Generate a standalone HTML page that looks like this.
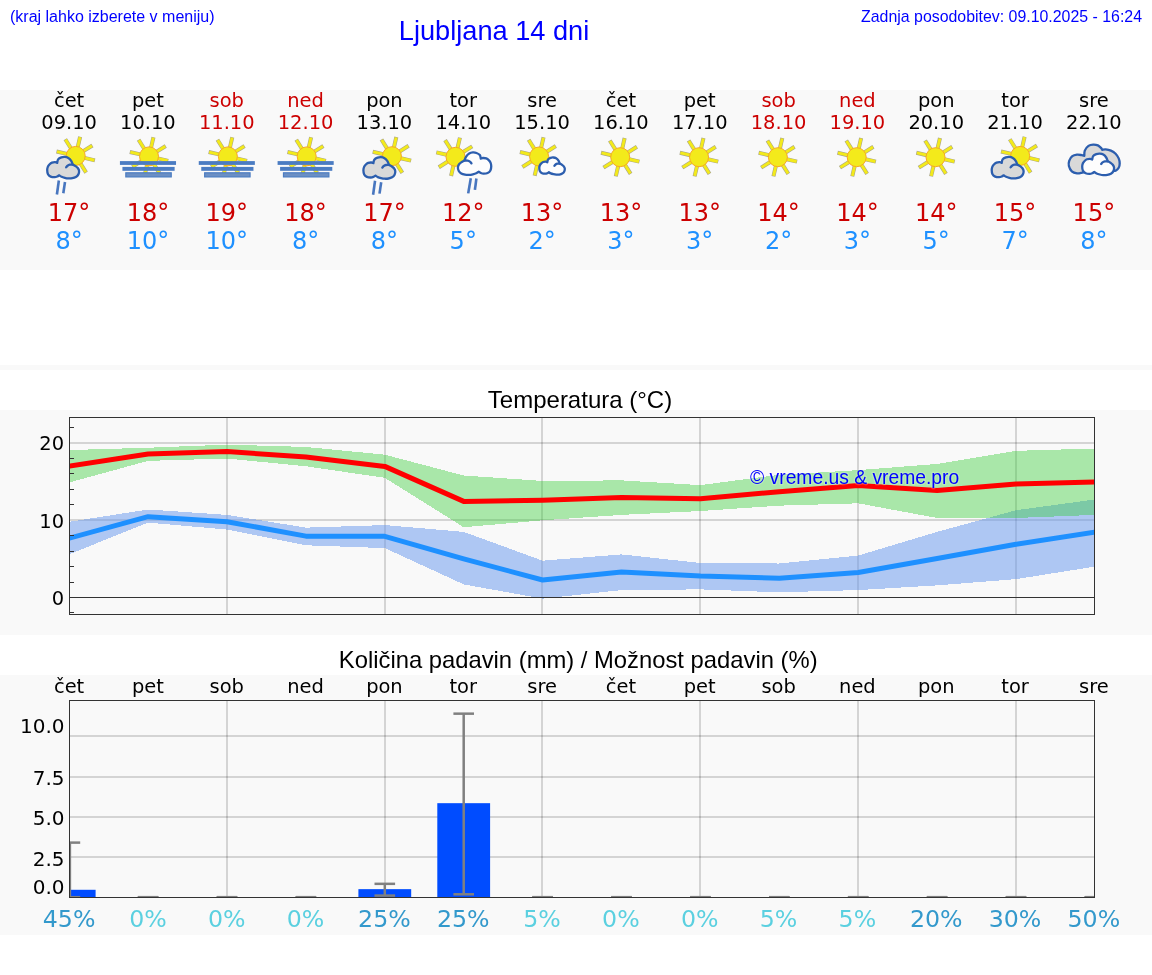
<!DOCTYPE html>
<html><head><meta charset="utf-8"><title>Ljubljana 14 dni</title>
<style>
html,body{margin:0;padding:0;background:#fff;width:1152px;height:975px;overflow:hidden}
body{position:relative}
</style></head><body>
<svg width="1152" height="975" viewBox="0 0 1152 975" style="position:absolute;left:0;top:0">
<text x="10" y="22" font-family="'Liberation Sans', sans-serif" font-size="16" fill="#0000ff">(kraj lahko izberete v meniju)</text>
<text x="398.8" y="39.5" font-family="'Liberation Sans', sans-serif" font-size="27.2" fill="#0000ff">Ljubljana 14 dni</text>
<text x="1142" y="21.5" text-anchor="end" font-family="'Liberation Sans', sans-serif" font-size="15.9" fill="#0000ff">Zadnja posodobitev: 09.10.2025 - 16:24</text>
<rect x="0" y="90" width="1152" height="180" fill="#f9f9f9"/>
<text x="69.10" y="107.0" text-anchor="middle" font-family="'DejaVu Sans', sans-serif" font-size="19.44" fill="#000">čet</text>
<text x="69.10" y="129" text-anchor="middle" font-family="'DejaVu Sans', sans-serif" font-size="19.44" fill="#000">09.10</text>
<text x="69.10" y="221.1" text-anchor="middle" font-family="'DejaVu Sans', sans-serif" font-size="24" fill="#cc0000">17°</text>
<text x="69.10" y="248.5" text-anchor="middle" font-family="'DejaVu Sans', sans-serif" font-size="24" fill="#1e90ff">8°</text>
<text x="147.93" y="107.0" text-anchor="middle" font-family="'DejaVu Sans', sans-serif" font-size="19.44" fill="#000">pet</text>
<text x="147.93" y="129" text-anchor="middle" font-family="'DejaVu Sans', sans-serif" font-size="19.44" fill="#000">10.10</text>
<text x="147.93" y="221.1" text-anchor="middle" font-family="'DejaVu Sans', sans-serif" font-size="24" fill="#cc0000">18°</text>
<text x="147.93" y="248.5" text-anchor="middle" font-family="'DejaVu Sans', sans-serif" font-size="24" fill="#1e90ff">10°</text>
<text x="226.76" y="107.0" text-anchor="middle" font-family="'DejaVu Sans', sans-serif" font-size="19.44" fill="#cc0000">sob</text>
<text x="226.76" y="129" text-anchor="middle" font-family="'DejaVu Sans', sans-serif" font-size="19.44" fill="#cc0000">11.10</text>
<text x="226.76" y="221.1" text-anchor="middle" font-family="'DejaVu Sans', sans-serif" font-size="24" fill="#cc0000">19°</text>
<text x="226.76" y="248.5" text-anchor="middle" font-family="'DejaVu Sans', sans-serif" font-size="24" fill="#1e90ff">10°</text>
<text x="305.59" y="107.0" text-anchor="middle" font-family="'DejaVu Sans', sans-serif" font-size="19.44" fill="#cc0000">ned</text>
<text x="305.59" y="129" text-anchor="middle" font-family="'DejaVu Sans', sans-serif" font-size="19.44" fill="#cc0000">12.10</text>
<text x="305.59" y="221.1" text-anchor="middle" font-family="'DejaVu Sans', sans-serif" font-size="24" fill="#cc0000">18°</text>
<text x="305.59" y="248.5" text-anchor="middle" font-family="'DejaVu Sans', sans-serif" font-size="24" fill="#1e90ff">8°</text>
<text x="384.42" y="107.0" text-anchor="middle" font-family="'DejaVu Sans', sans-serif" font-size="19.44" fill="#000">pon</text>
<text x="384.42" y="129" text-anchor="middle" font-family="'DejaVu Sans', sans-serif" font-size="19.44" fill="#000">13.10</text>
<text x="384.42" y="221.1" text-anchor="middle" font-family="'DejaVu Sans', sans-serif" font-size="24" fill="#cc0000">17°</text>
<text x="384.42" y="248.5" text-anchor="middle" font-family="'DejaVu Sans', sans-serif" font-size="24" fill="#1e90ff">8°</text>
<text x="463.25" y="107.0" text-anchor="middle" font-family="'DejaVu Sans', sans-serif" font-size="19.44" fill="#000">tor</text>
<text x="463.25" y="129" text-anchor="middle" font-family="'DejaVu Sans', sans-serif" font-size="19.44" fill="#000">14.10</text>
<text x="463.25" y="221.1" text-anchor="middle" font-family="'DejaVu Sans', sans-serif" font-size="24" fill="#cc0000">12°</text>
<text x="463.25" y="248.5" text-anchor="middle" font-family="'DejaVu Sans', sans-serif" font-size="24" fill="#1e90ff">5°</text>
<text x="542.08" y="107.0" text-anchor="middle" font-family="'DejaVu Sans', sans-serif" font-size="19.44" fill="#000">sre</text>
<text x="542.08" y="129" text-anchor="middle" font-family="'DejaVu Sans', sans-serif" font-size="19.44" fill="#000">15.10</text>
<text x="542.08" y="221.1" text-anchor="middle" font-family="'DejaVu Sans', sans-serif" font-size="24" fill="#cc0000">13°</text>
<text x="542.08" y="248.5" text-anchor="middle" font-family="'DejaVu Sans', sans-serif" font-size="24" fill="#1e90ff">2°</text>
<text x="620.91" y="107.0" text-anchor="middle" font-family="'DejaVu Sans', sans-serif" font-size="19.44" fill="#000">čet</text>
<text x="620.91" y="129" text-anchor="middle" font-family="'DejaVu Sans', sans-serif" font-size="19.44" fill="#000">16.10</text>
<text x="620.91" y="221.1" text-anchor="middle" font-family="'DejaVu Sans', sans-serif" font-size="24" fill="#cc0000">13°</text>
<text x="620.91" y="248.5" text-anchor="middle" font-family="'DejaVu Sans', sans-serif" font-size="24" fill="#1e90ff">3°</text>
<text x="699.74" y="107.0" text-anchor="middle" font-family="'DejaVu Sans', sans-serif" font-size="19.44" fill="#000">pet</text>
<text x="699.74" y="129" text-anchor="middle" font-family="'DejaVu Sans', sans-serif" font-size="19.44" fill="#000">17.10</text>
<text x="699.74" y="221.1" text-anchor="middle" font-family="'DejaVu Sans', sans-serif" font-size="24" fill="#cc0000">13°</text>
<text x="699.74" y="248.5" text-anchor="middle" font-family="'DejaVu Sans', sans-serif" font-size="24" fill="#1e90ff">3°</text>
<text x="778.57" y="107.0" text-anchor="middle" font-family="'DejaVu Sans', sans-serif" font-size="19.44" fill="#cc0000">sob</text>
<text x="778.57" y="129" text-anchor="middle" font-family="'DejaVu Sans', sans-serif" font-size="19.44" fill="#cc0000">18.10</text>
<text x="778.57" y="221.1" text-anchor="middle" font-family="'DejaVu Sans', sans-serif" font-size="24" fill="#cc0000">14°</text>
<text x="778.57" y="248.5" text-anchor="middle" font-family="'DejaVu Sans', sans-serif" font-size="24" fill="#1e90ff">2°</text>
<text x="857.40" y="107.0" text-anchor="middle" font-family="'DejaVu Sans', sans-serif" font-size="19.44" fill="#cc0000">ned</text>
<text x="857.40" y="129" text-anchor="middle" font-family="'DejaVu Sans', sans-serif" font-size="19.44" fill="#cc0000">19.10</text>
<text x="857.40" y="221.1" text-anchor="middle" font-family="'DejaVu Sans', sans-serif" font-size="24" fill="#cc0000">14°</text>
<text x="857.40" y="248.5" text-anchor="middle" font-family="'DejaVu Sans', sans-serif" font-size="24" fill="#1e90ff">3°</text>
<text x="936.23" y="107.0" text-anchor="middle" font-family="'DejaVu Sans', sans-serif" font-size="19.44" fill="#000">pon</text>
<text x="936.23" y="129" text-anchor="middle" font-family="'DejaVu Sans', sans-serif" font-size="19.44" fill="#000">20.10</text>
<text x="936.23" y="221.1" text-anchor="middle" font-family="'DejaVu Sans', sans-serif" font-size="24" fill="#cc0000">14°</text>
<text x="936.23" y="248.5" text-anchor="middle" font-family="'DejaVu Sans', sans-serif" font-size="24" fill="#1e90ff">5°</text>
<text x="1015.06" y="107.0" text-anchor="middle" font-family="'DejaVu Sans', sans-serif" font-size="19.44" fill="#000">tor</text>
<text x="1015.06" y="129" text-anchor="middle" font-family="'DejaVu Sans', sans-serif" font-size="19.44" fill="#000">21.10</text>
<text x="1015.06" y="221.1" text-anchor="middle" font-family="'DejaVu Sans', sans-serif" font-size="24" fill="#cc0000">15°</text>
<text x="1015.06" y="248.5" text-anchor="middle" font-family="'DejaVu Sans', sans-serif" font-size="24" fill="#1e90ff">7°</text>
<text x="1093.89" y="107.0" text-anchor="middle" font-family="'DejaVu Sans', sans-serif" font-size="19.44" fill="#000">sre</text>
<text x="1093.89" y="129" text-anchor="middle" font-family="'DejaVu Sans', sans-serif" font-size="19.44" fill="#000">22.10</text>
<text x="1093.89" y="221.1" text-anchor="middle" font-family="'DejaVu Sans', sans-serif" font-size="24" fill="#cc0000">15°</text>
<text x="1093.89" y="248.5" text-anchor="middle" font-family="'DejaVu Sans', sans-serif" font-size="24" fill="#1e90ff">8°</text>
<line x1="77.72" y1="147.13" x2="80.13" y2="136.70" stroke="#a8a48c" stroke-width="4.0"/><line x1="77.72" y1="147.13" x2="80.02" y2="137.19" stroke="#f3ea1b" stroke-width="2.9"/><line x1="83.33" y1="151.13" x2="92.41" y2="145.46" stroke="#a8a48c" stroke-width="4.0"/><line x1="83.33" y1="151.13" x2="91.98" y2="145.73" stroke="#f3ea1b" stroke-width="2.9"/><line x1="84.47" y1="157.92" x2="94.90" y2="160.33" stroke="#a8a48c" stroke-width="4.0"/><line x1="84.47" y1="157.92" x2="94.41" y2="160.22" stroke="#f3ea1b" stroke-width="2.9"/><line x1="80.47" y1="163.53" x2="86.14" y2="172.61" stroke="#a8a48c" stroke-width="4.0"/><line x1="80.47" y1="163.53" x2="85.87" y2="172.18" stroke="#f3ea1b" stroke-width="2.9"/><line x1="73.68" y1="164.67" x2="71.27" y2="175.10" stroke="#a8a48c" stroke-width="4.0"/><line x1="73.68" y1="164.67" x2="71.38" y2="174.61" stroke="#f3ea1b" stroke-width="2.9"/><line x1="68.07" y1="160.67" x2="58.99" y2="166.34" stroke="#a8a48c" stroke-width="4.0"/><line x1="68.07" y1="160.67" x2="59.42" y2="166.07" stroke="#f3ea1b" stroke-width="2.9"/><line x1="66.93" y1="153.88" x2="56.50" y2="151.47" stroke="#a8a48c" stroke-width="4.0"/><line x1="66.93" y1="153.88" x2="56.99" y2="151.58" stroke="#f3ea1b" stroke-width="2.9"/><line x1="70.93" y1="148.27" x2="65.26" y2="139.19" stroke="#a8a48c" stroke-width="4.0"/><line x1="70.93" y1="148.27" x2="65.53" y2="139.62" stroke="#f3ea1b" stroke-width="2.9"/><circle cx="75.70" cy="155.90" r="9.50" fill="#f3ea1b" stroke="#f6a825" stroke-width="1"/><g transform="translate(0.00,0.00) scale(1.0000,1.0000)"><path d="M59.20,175.30 C58.89,175.50 58.09,176.18 57.33,176.50 C56.57,176.82 55.78,177.18 54.67,177.20 C53.56,177.22 51.78,177.10 50.67,176.60 C49.56,176.10 48.58,175.30 48.00,174.20 C47.42,173.10 47.22,171.27 47.20,170.00 C47.18,168.73 47.53,167.52 47.90,166.60 C48.27,165.68 48.72,165.17 49.40,164.50 C50.08,163.83 51.03,162.98 52.00,162.60 C52.97,162.22 54.33,162.17 55.20,162.20 C56.07,162.23 56.87,162.70 57.20,162.80 C57.36,162.23 57.44,160.30 58.13,159.40 C58.82,158.50 60.22,157.82 61.33,157.40 C62.44,156.98 63.64,156.82 64.80,156.90 C65.96,156.98 67.23,157.25 68.30,157.90 C69.37,158.55 70.45,159.68 71.20,160.80 C71.95,161.92 72.53,163.97 72.80,164.60 C73.23,164.83 74.57,165.43 75.40,166.00 C76.23,166.57 77.19,167.18 77.80,168.00 C78.41,168.82 78.97,169.83 79.07,170.90 C79.17,171.97 78.93,173.38 78.40,174.40 C77.87,175.42 76.92,176.37 75.90,177.00 C74.88,177.63 73.57,177.97 72.30,178.20 C71.03,178.43 69.55,178.47 68.30,178.40 C67.05,178.33 65.92,178.07 64.80,177.80 C63.68,177.53 62.53,177.22 61.60,176.80 C60.67,176.38 59.60,175.55 59.20,175.30 Z" fill="#d9d9d9" stroke="#2c5eae" stroke-width="2.30" stroke-linejoin="round"/><path d="M66.13,167.33 C66.38,167.06 66.99,166.14 67.60,165.70 C68.21,165.26 68.93,164.88 69.80,164.70 C70.67,164.52 72.30,164.62 72.80,164.60" fill="none" stroke="#2c5eae" stroke-width="2.30" stroke-linecap="round"/></g><line x1="58.85" y1="180.50" x2="56.90" y2="194.50" stroke="#4876bf" stroke-width="2.6"/><line x1="65.00" y1="182.00" x2="63.30" y2="193.30" stroke="#4876bf" stroke-width="2.6"/>
<line x1="151.05" y1="147.63" x2="153.46" y2="137.20" stroke="#a8a48c" stroke-width="4.0"/><line x1="151.05" y1="147.63" x2="153.35" y2="137.69" stroke="#f3ea1b" stroke-width="2.9"/><line x1="156.66" y1="151.63" x2="165.74" y2="145.96" stroke="#a8a48c" stroke-width="4.0"/><line x1="156.66" y1="151.63" x2="165.31" y2="146.23" stroke="#f3ea1b" stroke-width="2.9"/><line x1="157.80" y1="158.42" x2="168.23" y2="160.83" stroke="#a8a48c" stroke-width="4.0"/><line x1="157.80" y1="158.42" x2="167.74" y2="160.72" stroke="#f3ea1b" stroke-width="2.9"/><line x1="153.80" y1="164.03" x2="159.47" y2="173.11" stroke="#a8a48c" stroke-width="4.0"/><line x1="153.80" y1="164.03" x2="159.20" y2="172.68" stroke="#f3ea1b" stroke-width="2.9"/><line x1="147.01" y1="165.17" x2="144.60" y2="175.60" stroke="#a8a48c" stroke-width="4.0"/><line x1="147.01" y1="165.17" x2="144.71" y2="175.11" stroke="#f3ea1b" stroke-width="2.9"/><line x1="141.40" y1="161.17" x2="132.32" y2="166.84" stroke="#a8a48c" stroke-width="4.0"/><line x1="141.40" y1="161.17" x2="132.75" y2="166.57" stroke="#f3ea1b" stroke-width="2.9"/><line x1="140.26" y1="154.38" x2="129.83" y2="151.97" stroke="#a8a48c" stroke-width="4.0"/><line x1="140.26" y1="154.38" x2="130.32" y2="152.08" stroke="#f3ea1b" stroke-width="2.9"/><line x1="144.26" y1="148.77" x2="138.59" y2="139.69" stroke="#a8a48c" stroke-width="4.0"/><line x1="144.26" y1="148.77" x2="138.86" y2="140.12" stroke="#f3ea1b" stroke-width="2.9"/><circle cx="149.03" cy="156.40" r="9.50" fill="#f3ea1b" stroke="#f6a825" stroke-width="1"/><rect x="119.93" y="161.10" width="56.10" height="3.80" fill="#4b7cc2"/><rect x="122.43" y="166.90" width="52.20" height="3.90" fill="#4b7cc2"/><rect x="125.83" y="172.80" width="45.40" height="4.10" fill="#6b8fc4" stroke="#4b7cc2" stroke-width="1.2"/>
<line x1="229.88" y1="147.63" x2="232.29" y2="137.20" stroke="#a8a48c" stroke-width="4.0"/><line x1="229.88" y1="147.63" x2="232.18" y2="137.69" stroke="#f3ea1b" stroke-width="2.9"/><line x1="235.49" y1="151.63" x2="244.57" y2="145.96" stroke="#a8a48c" stroke-width="4.0"/><line x1="235.49" y1="151.63" x2="244.14" y2="146.23" stroke="#f3ea1b" stroke-width="2.9"/><line x1="236.63" y1="158.42" x2="247.06" y2="160.83" stroke="#a8a48c" stroke-width="4.0"/><line x1="236.63" y1="158.42" x2="246.57" y2="160.72" stroke="#f3ea1b" stroke-width="2.9"/><line x1="232.63" y1="164.03" x2="238.30" y2="173.11" stroke="#a8a48c" stroke-width="4.0"/><line x1="232.63" y1="164.03" x2="238.03" y2="172.68" stroke="#f3ea1b" stroke-width="2.9"/><line x1="225.84" y1="165.17" x2="223.43" y2="175.60" stroke="#a8a48c" stroke-width="4.0"/><line x1="225.84" y1="165.17" x2="223.54" y2="175.11" stroke="#f3ea1b" stroke-width="2.9"/><line x1="220.23" y1="161.17" x2="211.15" y2="166.84" stroke="#a8a48c" stroke-width="4.0"/><line x1="220.23" y1="161.17" x2="211.58" y2="166.57" stroke="#f3ea1b" stroke-width="2.9"/><line x1="219.09" y1="154.38" x2="208.66" y2="151.97" stroke="#a8a48c" stroke-width="4.0"/><line x1="219.09" y1="154.38" x2="209.15" y2="152.08" stroke="#f3ea1b" stroke-width="2.9"/><line x1="223.09" y1="148.77" x2="217.42" y2="139.69" stroke="#a8a48c" stroke-width="4.0"/><line x1="223.09" y1="148.77" x2="217.69" y2="140.12" stroke="#f3ea1b" stroke-width="2.9"/><circle cx="227.86" cy="156.40" r="9.50" fill="#f3ea1b" stroke="#f6a825" stroke-width="1"/><rect x="198.76" y="161.10" width="56.10" height="3.80" fill="#4b7cc2"/><rect x="201.26" y="166.90" width="52.20" height="3.90" fill="#4b7cc2"/><rect x="204.66" y="172.80" width="45.40" height="4.10" fill="#6b8fc4" stroke="#4b7cc2" stroke-width="1.2"/>
<line x1="308.71" y1="147.63" x2="311.12" y2="137.20" stroke="#a8a48c" stroke-width="4.0"/><line x1="308.71" y1="147.63" x2="311.01" y2="137.69" stroke="#f3ea1b" stroke-width="2.9"/><line x1="314.32" y1="151.63" x2="323.40" y2="145.96" stroke="#a8a48c" stroke-width="4.0"/><line x1="314.32" y1="151.63" x2="322.97" y2="146.23" stroke="#f3ea1b" stroke-width="2.9"/><line x1="315.46" y1="158.42" x2="325.89" y2="160.83" stroke="#a8a48c" stroke-width="4.0"/><line x1="315.46" y1="158.42" x2="325.40" y2="160.72" stroke="#f3ea1b" stroke-width="2.9"/><line x1="311.46" y1="164.03" x2="317.13" y2="173.11" stroke="#a8a48c" stroke-width="4.0"/><line x1="311.46" y1="164.03" x2="316.86" y2="172.68" stroke="#f3ea1b" stroke-width="2.9"/><line x1="304.67" y1="165.17" x2="302.26" y2="175.60" stroke="#a8a48c" stroke-width="4.0"/><line x1="304.67" y1="165.17" x2="302.37" y2="175.11" stroke="#f3ea1b" stroke-width="2.9"/><line x1="299.06" y1="161.17" x2="289.98" y2="166.84" stroke="#a8a48c" stroke-width="4.0"/><line x1="299.06" y1="161.17" x2="290.41" y2="166.57" stroke="#f3ea1b" stroke-width="2.9"/><line x1="297.92" y1="154.38" x2="287.49" y2="151.97" stroke="#a8a48c" stroke-width="4.0"/><line x1="297.92" y1="154.38" x2="287.98" y2="152.08" stroke="#f3ea1b" stroke-width="2.9"/><line x1="301.92" y1="148.77" x2="296.25" y2="139.69" stroke="#a8a48c" stroke-width="4.0"/><line x1="301.92" y1="148.77" x2="296.52" y2="140.12" stroke="#f3ea1b" stroke-width="2.9"/><circle cx="306.69" cy="156.40" r="9.50" fill="#f3ea1b" stroke="#f6a825" stroke-width="1"/><rect x="277.59" y="161.10" width="56.10" height="3.80" fill="#4b7cc2"/><rect x="280.09" y="166.90" width="52.20" height="3.90" fill="#4b7cc2"/><rect x="283.49" y="172.80" width="45.40" height="4.10" fill="#6b8fc4" stroke="#4b7cc2" stroke-width="1.2"/>
<line x1="393.92" y1="147.43" x2="396.33" y2="137.00" stroke="#a8a48c" stroke-width="4.0"/><line x1="393.92" y1="147.43" x2="396.22" y2="137.49" stroke="#f3ea1b" stroke-width="2.9"/><line x1="399.53" y1="151.43" x2="408.61" y2="145.76" stroke="#a8a48c" stroke-width="4.0"/><line x1="399.53" y1="151.43" x2="408.18" y2="146.03" stroke="#f3ea1b" stroke-width="2.9"/><line x1="400.67" y1="158.22" x2="411.10" y2="160.63" stroke="#a8a48c" stroke-width="4.0"/><line x1="400.67" y1="158.22" x2="410.61" y2="160.52" stroke="#f3ea1b" stroke-width="2.9"/><line x1="396.67" y1="163.83" x2="402.34" y2="172.91" stroke="#a8a48c" stroke-width="4.0"/><line x1="396.67" y1="163.83" x2="402.07" y2="172.48" stroke="#f3ea1b" stroke-width="2.9"/><line x1="389.88" y1="164.97" x2="387.47" y2="175.40" stroke="#a8a48c" stroke-width="4.0"/><line x1="389.88" y1="164.97" x2="387.58" y2="174.91" stroke="#f3ea1b" stroke-width="2.9"/><line x1="384.27" y1="160.97" x2="375.19" y2="166.64" stroke="#a8a48c" stroke-width="4.0"/><line x1="384.27" y1="160.97" x2="375.62" y2="166.37" stroke="#f3ea1b" stroke-width="2.9"/><line x1="383.13" y1="154.18" x2="372.70" y2="151.77" stroke="#a8a48c" stroke-width="4.0"/><line x1="383.13" y1="154.18" x2="373.19" y2="151.88" stroke="#f3ea1b" stroke-width="2.9"/><line x1="387.13" y1="148.57" x2="381.46" y2="139.49" stroke="#a8a48c" stroke-width="4.0"/><line x1="387.13" y1="148.57" x2="381.73" y2="139.92" stroke="#f3ea1b" stroke-width="2.9"/><circle cx="391.90" cy="156.20" r="9.50" fill="#f3ea1b" stroke="#f6a825" stroke-width="1"/><g transform="translate(316.20,0.30) scale(1.0000,1.0000)"><path d="M59.20,175.30 C58.89,175.50 58.09,176.18 57.33,176.50 C56.57,176.82 55.78,177.18 54.67,177.20 C53.56,177.22 51.78,177.10 50.67,176.60 C49.56,176.10 48.58,175.30 48.00,174.20 C47.42,173.10 47.22,171.27 47.20,170.00 C47.18,168.73 47.53,167.52 47.90,166.60 C48.27,165.68 48.72,165.17 49.40,164.50 C50.08,163.83 51.03,162.98 52.00,162.60 C52.97,162.22 54.33,162.17 55.20,162.20 C56.07,162.23 56.87,162.70 57.20,162.80 C57.36,162.23 57.44,160.30 58.13,159.40 C58.82,158.50 60.22,157.82 61.33,157.40 C62.44,156.98 63.64,156.82 64.80,156.90 C65.96,156.98 67.23,157.25 68.30,157.90 C69.37,158.55 70.45,159.68 71.20,160.80 C71.95,161.92 72.53,163.97 72.80,164.60 C73.23,164.83 74.57,165.43 75.40,166.00 C76.23,166.57 77.19,167.18 77.80,168.00 C78.41,168.82 78.97,169.83 79.07,170.90 C79.17,171.97 78.93,173.38 78.40,174.40 C77.87,175.42 76.92,176.37 75.90,177.00 C74.88,177.63 73.57,177.97 72.30,178.20 C71.03,178.43 69.55,178.47 68.30,178.40 C67.05,178.33 65.92,178.07 64.80,177.80 C63.68,177.53 62.53,177.22 61.60,176.80 C60.67,176.38 59.60,175.55 59.20,175.30 Z" fill="#d9d9d9" stroke="#2c5eae" stroke-width="2.30" stroke-linejoin="round"/><path d="M66.13,167.33 C66.38,167.06 66.99,166.14 67.60,165.70 C68.21,165.26 68.93,164.88 69.80,164.70 C70.67,164.52 72.30,164.62 72.80,164.60" fill="none" stroke="#2c5eae" stroke-width="2.30" stroke-linecap="round"/></g><line x1="375.05" y1="180.80" x2="373.10" y2="194.80" stroke="#4876bf" stroke-width="2.6"/><line x1="381.20" y1="182.30" x2="379.50" y2="193.60" stroke="#4876bf" stroke-width="2.6"/>
<line x1="457.52" y1="148.03" x2="459.93" y2="137.60" stroke="#a8a48c" stroke-width="4.0"/><line x1="457.52" y1="148.03" x2="459.82" y2="138.09" stroke="#f3ea1b" stroke-width="2.9"/><line x1="463.13" y1="152.03" x2="472.21" y2="146.36" stroke="#a8a48c" stroke-width="4.0"/><line x1="463.13" y1="152.03" x2="471.78" y2="146.63" stroke="#f3ea1b" stroke-width="2.9"/><line x1="464.27" y1="158.82" x2="474.70" y2="161.23" stroke="#a8a48c" stroke-width="4.0"/><line x1="464.27" y1="158.82" x2="474.21" y2="161.12" stroke="#f3ea1b" stroke-width="2.9"/><line x1="460.27" y1="164.43" x2="465.94" y2="173.51" stroke="#a8a48c" stroke-width="4.0"/><line x1="460.27" y1="164.43" x2="465.67" y2="173.08" stroke="#f3ea1b" stroke-width="2.9"/><line x1="453.48" y1="165.57" x2="451.07" y2="176.00" stroke="#a8a48c" stroke-width="4.0"/><line x1="453.48" y1="165.57" x2="451.18" y2="175.51" stroke="#f3ea1b" stroke-width="2.9"/><line x1="447.87" y1="161.57" x2="438.79" y2="167.24" stroke="#a8a48c" stroke-width="4.0"/><line x1="447.87" y1="161.57" x2="439.22" y2="166.97" stroke="#f3ea1b" stroke-width="2.9"/><line x1="446.73" y1="154.78" x2="436.30" y2="152.37" stroke="#a8a48c" stroke-width="4.0"/><line x1="446.73" y1="154.78" x2="436.79" y2="152.48" stroke="#f3ea1b" stroke-width="2.9"/><line x1="450.73" y1="149.17" x2="445.06" y2="140.09" stroke="#a8a48c" stroke-width="4.0"/><line x1="450.73" y1="149.17" x2="445.33" y2="140.52" stroke="#f3ea1b" stroke-width="2.9"/><circle cx="455.50" cy="156.80" r="9.50" fill="#f3ea1b" stroke="#f6a825" stroke-width="1"/><g transform="translate(540.57,-11.51) scale(-1.0450,1.0450)"><path d="M59.20,175.30 C58.89,175.50 58.09,176.18 57.33,176.50 C56.57,176.82 55.78,177.18 54.67,177.20 C53.56,177.22 51.78,177.10 50.67,176.60 C49.56,176.10 48.58,175.30 48.00,174.20 C47.42,173.10 47.22,171.27 47.20,170.00 C47.18,168.73 47.53,167.52 47.90,166.60 C48.27,165.68 48.72,165.17 49.40,164.50 C50.08,163.83 51.03,162.98 52.00,162.60 C52.97,162.22 54.33,162.17 55.20,162.20 C56.07,162.23 56.87,162.70 57.20,162.80 C57.36,162.23 57.44,160.30 58.13,159.40 C58.82,158.50 60.22,157.82 61.33,157.40 C62.44,156.98 63.64,156.82 64.80,156.90 C65.96,156.98 67.23,157.25 68.30,157.90 C69.37,158.55 70.45,159.68 71.20,160.80 C71.95,161.92 72.53,163.97 72.80,164.60 C73.23,164.83 74.57,165.43 75.40,166.00 C76.23,166.57 77.19,167.18 77.80,168.00 C78.41,168.82 78.97,169.83 79.07,170.90 C79.17,171.97 78.93,173.38 78.40,174.40 C77.87,175.42 76.92,176.37 75.90,177.00 C74.88,177.63 73.57,177.97 72.30,178.20 C71.03,178.43 69.55,178.47 68.30,178.40 C67.05,178.33 65.92,178.07 64.80,177.80 C63.68,177.53 62.53,177.22 61.60,176.80 C60.67,176.38 59.60,175.55 59.20,175.30 Z" fill="#fdfdfd" stroke="#2c5eae" stroke-width="2.20" stroke-linejoin="round"/><path d="M66.13,167.33 C66.38,167.06 66.99,166.14 67.60,165.70 C68.21,165.26 68.93,164.88 69.80,164.70 C70.67,164.52 72.30,164.62 72.80,164.60" fill="none" stroke="#2c5eae" stroke-width="2.20" stroke-linecap="round"/></g><line x1="470.80" y1="178.30" x2="468.20" y2="193.40" stroke="#4876bf" stroke-width="2.6"/><line x1="476.40" y1="178.50" x2="474.90" y2="189.80" stroke="#4876bf" stroke-width="2.6"/>
<line x1="541.12" y1="147.73" x2="543.53" y2="137.30" stroke="#a8a48c" stroke-width="4.0"/><line x1="541.12" y1="147.73" x2="543.42" y2="137.79" stroke="#f3ea1b" stroke-width="2.9"/><line x1="546.73" y1="151.73" x2="555.81" y2="146.06" stroke="#a8a48c" stroke-width="4.0"/><line x1="546.73" y1="151.73" x2="555.38" y2="146.33" stroke="#f3ea1b" stroke-width="2.9"/><line x1="547.87" y1="158.52" x2="558.30" y2="160.93" stroke="#a8a48c" stroke-width="4.0"/><line x1="547.87" y1="158.52" x2="557.81" y2="160.82" stroke="#f3ea1b" stroke-width="2.9"/><line x1="543.87" y1="164.13" x2="549.54" y2="173.21" stroke="#a8a48c" stroke-width="4.0"/><line x1="543.87" y1="164.13" x2="549.27" y2="172.78" stroke="#f3ea1b" stroke-width="2.9"/><line x1="537.08" y1="165.27" x2="534.67" y2="175.70" stroke="#a8a48c" stroke-width="4.0"/><line x1="537.08" y1="165.27" x2="534.78" y2="175.21" stroke="#f3ea1b" stroke-width="2.9"/><line x1="531.47" y1="161.27" x2="522.39" y2="166.94" stroke="#a8a48c" stroke-width="4.0"/><line x1="531.47" y1="161.27" x2="522.82" y2="166.67" stroke="#f3ea1b" stroke-width="2.9"/><line x1="530.33" y1="154.48" x2="519.90" y2="152.07" stroke="#a8a48c" stroke-width="4.0"/><line x1="530.33" y1="154.48" x2="520.39" y2="152.18" stroke="#f3ea1b" stroke-width="2.9"/><line x1="534.33" y1="148.87" x2="528.66" y2="139.79" stroke="#a8a48c" stroke-width="4.0"/><line x1="534.33" y1="148.87" x2="528.93" y2="140.22" stroke="#f3ea1b" stroke-width="2.9"/><circle cx="539.10" cy="156.50" r="9.50" fill="#f3ea1b" stroke="#f6a825" stroke-width="1"/><g transform="translate(501.54,31.96) scale(0.8000,0.8000)"><path d="M59.20,175.30 C58.89,175.50 58.09,176.18 57.33,176.50 C56.57,176.82 55.78,177.18 54.67,177.20 C53.56,177.22 51.78,177.10 50.67,176.60 C49.56,176.10 48.58,175.30 48.00,174.20 C47.42,173.10 47.22,171.27 47.20,170.00 C47.18,168.73 47.53,167.52 47.90,166.60 C48.27,165.68 48.72,165.17 49.40,164.50 C50.08,163.83 51.03,162.98 52.00,162.60 C52.97,162.22 54.33,162.17 55.20,162.20 C56.07,162.23 56.87,162.70 57.20,162.80 C57.36,162.23 57.44,160.30 58.13,159.40 C58.82,158.50 60.22,157.82 61.33,157.40 C62.44,156.98 63.64,156.82 64.80,156.90 C65.96,156.98 67.23,157.25 68.30,157.90 C69.37,158.55 70.45,159.68 71.20,160.80 C71.95,161.92 72.53,163.97 72.80,164.60 C73.23,164.83 74.57,165.43 75.40,166.00 C76.23,166.57 77.19,167.18 77.80,168.00 C78.41,168.82 78.97,169.83 79.07,170.90 C79.17,171.97 78.93,173.38 78.40,174.40 C77.87,175.42 76.92,176.37 75.90,177.00 C74.88,177.63 73.57,177.97 72.30,178.20 C71.03,178.43 69.55,178.47 68.30,178.40 C67.05,178.33 65.92,178.07 64.80,177.80 C63.68,177.53 62.53,177.22 61.60,176.80 C60.67,176.38 59.60,175.55 59.20,175.30 Z" fill="#fdfdfd" stroke="#2c5eae" stroke-width="2.87" stroke-linejoin="round"/><path d="M66.13,167.33 C66.38,167.06 66.99,166.14 67.60,165.70 C68.21,165.26 68.93,164.88 69.80,164.70 C70.67,164.52 72.30,164.62 72.80,164.60" fill="none" stroke="#2c5eae" stroke-width="2.87" stroke-linecap="round"/></g>
<line x1="622.23" y1="148.43" x2="624.64" y2="138.00" stroke="#a8a48c" stroke-width="4.0"/><line x1="622.23" y1="148.43" x2="624.53" y2="138.49" stroke="#f3ea1b" stroke-width="2.9"/><line x1="627.84" y1="152.43" x2="636.92" y2="146.76" stroke="#a8a48c" stroke-width="4.0"/><line x1="627.84" y1="152.43" x2="636.49" y2="147.03" stroke="#f3ea1b" stroke-width="2.9"/><line x1="628.98" y1="159.22" x2="639.41" y2="161.63" stroke="#a8a48c" stroke-width="4.0"/><line x1="628.98" y1="159.22" x2="638.92" y2="161.52" stroke="#f3ea1b" stroke-width="2.9"/><line x1="624.98" y1="164.83" x2="630.65" y2="173.91" stroke="#a8a48c" stroke-width="4.0"/><line x1="624.98" y1="164.83" x2="630.38" y2="173.48" stroke="#f3ea1b" stroke-width="2.9"/><line x1="618.19" y1="165.97" x2="615.78" y2="176.40" stroke="#a8a48c" stroke-width="4.0"/><line x1="618.19" y1="165.97" x2="615.89" y2="175.91" stroke="#f3ea1b" stroke-width="2.9"/><line x1="612.58" y1="161.97" x2="603.50" y2="167.64" stroke="#a8a48c" stroke-width="4.0"/><line x1="612.58" y1="161.97" x2="603.93" y2="167.37" stroke="#f3ea1b" stroke-width="2.9"/><line x1="611.44" y1="155.18" x2="601.01" y2="152.77" stroke="#a8a48c" stroke-width="4.0"/><line x1="611.44" y1="155.18" x2="601.50" y2="152.88" stroke="#f3ea1b" stroke-width="2.9"/><line x1="615.44" y1="149.57" x2="609.77" y2="140.49" stroke="#a8a48c" stroke-width="4.0"/><line x1="615.44" y1="149.57" x2="610.04" y2="140.92" stroke="#f3ea1b" stroke-width="2.9"/><circle cx="620.21" cy="157.20" r="9.50" fill="#f3ea1b" stroke="#f6a825" stroke-width="1"/>
<line x1="701.06" y1="148.43" x2="703.47" y2="138.00" stroke="#a8a48c" stroke-width="4.0"/><line x1="701.06" y1="148.43" x2="703.36" y2="138.49" stroke="#f3ea1b" stroke-width="2.9"/><line x1="706.67" y1="152.43" x2="715.75" y2="146.76" stroke="#a8a48c" stroke-width="4.0"/><line x1="706.67" y1="152.43" x2="715.32" y2="147.03" stroke="#f3ea1b" stroke-width="2.9"/><line x1="707.81" y1="159.22" x2="718.24" y2="161.63" stroke="#a8a48c" stroke-width="4.0"/><line x1="707.81" y1="159.22" x2="717.75" y2="161.52" stroke="#f3ea1b" stroke-width="2.9"/><line x1="703.81" y1="164.83" x2="709.48" y2="173.91" stroke="#a8a48c" stroke-width="4.0"/><line x1="703.81" y1="164.83" x2="709.21" y2="173.48" stroke="#f3ea1b" stroke-width="2.9"/><line x1="697.02" y1="165.97" x2="694.61" y2="176.40" stroke="#a8a48c" stroke-width="4.0"/><line x1="697.02" y1="165.97" x2="694.72" y2="175.91" stroke="#f3ea1b" stroke-width="2.9"/><line x1="691.41" y1="161.97" x2="682.33" y2="167.64" stroke="#a8a48c" stroke-width="4.0"/><line x1="691.41" y1="161.97" x2="682.76" y2="167.37" stroke="#f3ea1b" stroke-width="2.9"/><line x1="690.27" y1="155.18" x2="679.84" y2="152.77" stroke="#a8a48c" stroke-width="4.0"/><line x1="690.27" y1="155.18" x2="680.33" y2="152.88" stroke="#f3ea1b" stroke-width="2.9"/><line x1="694.27" y1="149.57" x2="688.60" y2="140.49" stroke="#a8a48c" stroke-width="4.0"/><line x1="694.27" y1="149.57" x2="688.87" y2="140.92" stroke="#f3ea1b" stroke-width="2.9"/><circle cx="699.04" cy="157.20" r="9.50" fill="#f3ea1b" stroke="#f6a825" stroke-width="1"/>
<line x1="779.89" y1="148.43" x2="782.30" y2="138.00" stroke="#a8a48c" stroke-width="4.0"/><line x1="779.89" y1="148.43" x2="782.19" y2="138.49" stroke="#f3ea1b" stroke-width="2.9"/><line x1="785.50" y1="152.43" x2="794.58" y2="146.76" stroke="#a8a48c" stroke-width="4.0"/><line x1="785.50" y1="152.43" x2="794.15" y2="147.03" stroke="#f3ea1b" stroke-width="2.9"/><line x1="786.64" y1="159.22" x2="797.07" y2="161.63" stroke="#a8a48c" stroke-width="4.0"/><line x1="786.64" y1="159.22" x2="796.58" y2="161.52" stroke="#f3ea1b" stroke-width="2.9"/><line x1="782.64" y1="164.83" x2="788.31" y2="173.91" stroke="#a8a48c" stroke-width="4.0"/><line x1="782.64" y1="164.83" x2="788.04" y2="173.48" stroke="#f3ea1b" stroke-width="2.9"/><line x1="775.85" y1="165.97" x2="773.44" y2="176.40" stroke="#a8a48c" stroke-width="4.0"/><line x1="775.85" y1="165.97" x2="773.55" y2="175.91" stroke="#f3ea1b" stroke-width="2.9"/><line x1="770.24" y1="161.97" x2="761.16" y2="167.64" stroke="#a8a48c" stroke-width="4.0"/><line x1="770.24" y1="161.97" x2="761.59" y2="167.37" stroke="#f3ea1b" stroke-width="2.9"/><line x1="769.10" y1="155.18" x2="758.67" y2="152.77" stroke="#a8a48c" stroke-width="4.0"/><line x1="769.10" y1="155.18" x2="759.16" y2="152.88" stroke="#f3ea1b" stroke-width="2.9"/><line x1="773.10" y1="149.57" x2="767.43" y2="140.49" stroke="#a8a48c" stroke-width="4.0"/><line x1="773.10" y1="149.57" x2="767.70" y2="140.92" stroke="#f3ea1b" stroke-width="2.9"/><circle cx="777.87" cy="157.20" r="9.50" fill="#f3ea1b" stroke="#f6a825" stroke-width="1"/>
<line x1="858.72" y1="148.43" x2="861.13" y2="138.00" stroke="#a8a48c" stroke-width="4.0"/><line x1="858.72" y1="148.43" x2="861.02" y2="138.49" stroke="#f3ea1b" stroke-width="2.9"/><line x1="864.33" y1="152.43" x2="873.41" y2="146.76" stroke="#a8a48c" stroke-width="4.0"/><line x1="864.33" y1="152.43" x2="872.98" y2="147.03" stroke="#f3ea1b" stroke-width="2.9"/><line x1="865.47" y1="159.22" x2="875.90" y2="161.63" stroke="#a8a48c" stroke-width="4.0"/><line x1="865.47" y1="159.22" x2="875.41" y2="161.52" stroke="#f3ea1b" stroke-width="2.9"/><line x1="861.47" y1="164.83" x2="867.14" y2="173.91" stroke="#a8a48c" stroke-width="4.0"/><line x1="861.47" y1="164.83" x2="866.87" y2="173.48" stroke="#f3ea1b" stroke-width="2.9"/><line x1="854.68" y1="165.97" x2="852.27" y2="176.40" stroke="#a8a48c" stroke-width="4.0"/><line x1="854.68" y1="165.97" x2="852.38" y2="175.91" stroke="#f3ea1b" stroke-width="2.9"/><line x1="849.07" y1="161.97" x2="839.99" y2="167.64" stroke="#a8a48c" stroke-width="4.0"/><line x1="849.07" y1="161.97" x2="840.42" y2="167.37" stroke="#f3ea1b" stroke-width="2.9"/><line x1="847.93" y1="155.18" x2="837.50" y2="152.77" stroke="#a8a48c" stroke-width="4.0"/><line x1="847.93" y1="155.18" x2="837.99" y2="152.88" stroke="#f3ea1b" stroke-width="2.9"/><line x1="851.93" y1="149.57" x2="846.26" y2="140.49" stroke="#a8a48c" stroke-width="4.0"/><line x1="851.93" y1="149.57" x2="846.53" y2="140.92" stroke="#f3ea1b" stroke-width="2.9"/><circle cx="856.70" cy="157.20" r="9.50" fill="#f3ea1b" stroke="#f6a825" stroke-width="1"/>
<line x1="937.55" y1="148.43" x2="939.96" y2="138.00" stroke="#a8a48c" stroke-width="4.0"/><line x1="937.55" y1="148.43" x2="939.85" y2="138.49" stroke="#f3ea1b" stroke-width="2.9"/><line x1="943.16" y1="152.43" x2="952.24" y2="146.76" stroke="#a8a48c" stroke-width="4.0"/><line x1="943.16" y1="152.43" x2="951.81" y2="147.03" stroke="#f3ea1b" stroke-width="2.9"/><line x1="944.30" y1="159.22" x2="954.73" y2="161.63" stroke="#a8a48c" stroke-width="4.0"/><line x1="944.30" y1="159.22" x2="954.24" y2="161.52" stroke="#f3ea1b" stroke-width="2.9"/><line x1="940.30" y1="164.83" x2="945.97" y2="173.91" stroke="#a8a48c" stroke-width="4.0"/><line x1="940.30" y1="164.83" x2="945.70" y2="173.48" stroke="#f3ea1b" stroke-width="2.9"/><line x1="933.51" y1="165.97" x2="931.10" y2="176.40" stroke="#a8a48c" stroke-width="4.0"/><line x1="933.51" y1="165.97" x2="931.21" y2="175.91" stroke="#f3ea1b" stroke-width="2.9"/><line x1="927.90" y1="161.97" x2="918.82" y2="167.64" stroke="#a8a48c" stroke-width="4.0"/><line x1="927.90" y1="161.97" x2="919.25" y2="167.37" stroke="#f3ea1b" stroke-width="2.9"/><line x1="926.76" y1="155.18" x2="916.33" y2="152.77" stroke="#a8a48c" stroke-width="4.0"/><line x1="926.76" y1="155.18" x2="916.82" y2="152.88" stroke="#f3ea1b" stroke-width="2.9"/><line x1="930.76" y1="149.57" x2="925.09" y2="140.49" stroke="#a8a48c" stroke-width="4.0"/><line x1="930.76" y1="149.57" x2="925.36" y2="140.92" stroke="#f3ea1b" stroke-width="2.9"/><circle cx="935.53" cy="157.20" r="9.50" fill="#f3ea1b" stroke="#f6a825" stroke-width="1"/>
<line x1="1022.22" y1="147.13" x2="1024.63" y2="136.70" stroke="#a8a48c" stroke-width="4.0"/><line x1="1022.22" y1="147.13" x2="1024.52" y2="137.19" stroke="#f3ea1b" stroke-width="2.9"/><line x1="1027.83" y1="151.13" x2="1036.91" y2="145.46" stroke="#a8a48c" stroke-width="4.0"/><line x1="1027.83" y1="151.13" x2="1036.48" y2="145.73" stroke="#f3ea1b" stroke-width="2.9"/><line x1="1028.97" y1="157.92" x2="1039.40" y2="160.33" stroke="#a8a48c" stroke-width="4.0"/><line x1="1028.97" y1="157.92" x2="1038.91" y2="160.22" stroke="#f3ea1b" stroke-width="2.9"/><line x1="1024.97" y1="163.53" x2="1030.64" y2="172.61" stroke="#a8a48c" stroke-width="4.0"/><line x1="1024.97" y1="163.53" x2="1030.37" y2="172.18" stroke="#f3ea1b" stroke-width="2.9"/><line x1="1018.18" y1="164.67" x2="1015.77" y2="175.10" stroke="#a8a48c" stroke-width="4.0"/><line x1="1018.18" y1="164.67" x2="1015.88" y2="174.61" stroke="#f3ea1b" stroke-width="2.9"/><line x1="1012.57" y1="160.67" x2="1003.49" y2="166.34" stroke="#a8a48c" stroke-width="4.0"/><line x1="1012.57" y1="160.67" x2="1003.92" y2="166.07" stroke="#f3ea1b" stroke-width="2.9"/><line x1="1011.43" y1="153.88" x2="1001.00" y2="151.47" stroke="#a8a48c" stroke-width="4.0"/><line x1="1011.43" y1="153.88" x2="1001.49" y2="151.58" stroke="#f3ea1b" stroke-width="2.9"/><line x1="1015.43" y1="148.27" x2="1009.76" y2="139.19" stroke="#a8a48c" stroke-width="4.0"/><line x1="1015.43" y1="148.27" x2="1010.03" y2="139.62" stroke="#f3ea1b" stroke-width="2.9"/><circle cx="1020.20" cy="155.90" r="9.50" fill="#f3ea1b" stroke="#f6a825" stroke-width="1"/><g transform="translate(944.50,0.00) scale(1.0000,1.0000)"><path d="M59.20,175.30 C58.89,175.50 58.09,176.18 57.33,176.50 C56.57,176.82 55.78,177.18 54.67,177.20 C53.56,177.22 51.78,177.10 50.67,176.60 C49.56,176.10 48.58,175.30 48.00,174.20 C47.42,173.10 47.22,171.27 47.20,170.00 C47.18,168.73 47.53,167.52 47.90,166.60 C48.27,165.68 48.72,165.17 49.40,164.50 C50.08,163.83 51.03,162.98 52.00,162.60 C52.97,162.22 54.33,162.17 55.20,162.20 C56.07,162.23 56.87,162.70 57.20,162.80 C57.36,162.23 57.44,160.30 58.13,159.40 C58.82,158.50 60.22,157.82 61.33,157.40 C62.44,156.98 63.64,156.82 64.80,156.90 C65.96,156.98 67.23,157.25 68.30,157.90 C69.37,158.55 70.45,159.68 71.20,160.80 C71.95,161.92 72.53,163.97 72.80,164.60 C73.23,164.83 74.57,165.43 75.40,166.00 C76.23,166.57 77.19,167.18 77.80,168.00 C78.41,168.82 78.97,169.83 79.07,170.90 C79.17,171.97 78.93,173.38 78.40,174.40 C77.87,175.42 76.92,176.37 75.90,177.00 C74.88,177.63 73.57,177.97 72.30,178.20 C71.03,178.43 69.55,178.47 68.30,178.40 C67.05,178.33 65.92,178.07 64.80,177.80 C63.68,177.53 62.53,177.22 61.60,176.80 C60.67,176.38 59.60,175.55 59.20,175.30 Z" fill="#d9d9d9" stroke="#2c5eae" stroke-width="2.30" stroke-linejoin="round"/><path d="M66.13,167.33 C66.38,167.06 66.99,166.14 67.60,165.70 C68.21,165.26 68.93,164.88 69.80,164.70 C70.67,164.52 72.30,164.62 72.80,164.60" fill="none" stroke="#2c5eae" stroke-width="2.30" stroke-linecap="round"/></g>
<path d="M1086.00,171.00 C1085.25,171.30 1083.00,172.40 1081.50,172.80 C1080.00,173.20 1078.62,173.65 1077.00,173.40 C1075.38,173.15 1073.15,172.53 1071.80,171.30 C1070.45,170.07 1069.33,167.75 1068.90,166.00 C1068.47,164.25 1068.63,162.43 1069.20,160.80 C1069.77,159.17 1071.00,157.22 1072.30,156.20 C1073.60,155.18 1075.43,154.88 1077.00,154.70 C1078.57,154.52 1080.48,154.92 1081.70,155.10 C1082.92,155.28 1083.87,155.68 1084.30,155.80 C1084.38,154.93 1084.10,152.25 1084.80,150.60 C1085.50,148.95 1087.10,146.90 1088.50,145.90 C1089.90,144.90 1091.63,144.68 1093.20,144.60 C1094.77,144.52 1096.60,144.85 1097.90,145.40 C1099.20,145.95 1100.27,147.17 1101.00,147.90 C1101.73,148.63 1102.08,149.48 1102.30,149.80 C1102.87,149.72 1104.27,149.17 1105.70,149.30 C1107.13,149.43 1109.25,149.87 1110.90,150.60 C1112.55,151.33 1114.30,152.40 1115.60,153.70 C1116.90,155.00 1118.02,156.78 1118.70,158.40 C1119.38,160.02 1119.70,161.83 1119.70,163.40 C1119.70,164.97 1119.32,166.62 1118.70,167.80 C1118.08,168.98 1116.95,169.97 1116.00,170.50 C1115.05,171.03 1113.50,170.92 1113.00,171.00  L1100,166 Z" fill="#d9d9d9" stroke="#2c5eae" stroke-width="2.3" stroke-linejoin="round"/><g transform="translate(1035.00,-3.30) scale(1.0000,1.0000)"><path d="M59.20,175.30 C58.89,175.50 58.09,176.18 57.33,176.50 C56.57,176.82 55.78,177.18 54.67,177.20 C53.56,177.22 51.78,177.10 50.67,176.60 C49.56,176.10 48.58,175.30 48.00,174.20 C47.42,173.10 47.22,171.27 47.20,170.00 C47.18,168.73 47.53,167.52 47.90,166.60 C48.27,165.68 48.72,165.17 49.40,164.50 C50.08,163.83 51.03,162.98 52.00,162.60 C52.97,162.22 54.33,162.17 55.20,162.20 C56.07,162.23 56.87,162.70 57.20,162.80 C57.36,162.23 57.44,160.30 58.13,159.40 C58.82,158.50 60.22,157.82 61.33,157.40 C62.44,156.98 63.64,156.82 64.80,156.90 C65.96,156.98 67.23,157.25 68.30,157.90 C69.37,158.55 70.45,159.68 71.20,160.80 C71.95,161.92 72.53,163.97 72.80,164.60 C73.23,164.83 74.57,165.43 75.40,166.00 C76.23,166.57 77.19,167.18 77.80,168.00 C78.41,168.82 78.97,169.83 79.07,170.90 C79.17,171.97 78.93,173.38 78.40,174.40 C77.87,175.42 76.92,176.37 75.90,177.00 C74.88,177.63 73.57,177.97 72.30,178.20 C71.03,178.43 69.55,178.47 68.30,178.40 C67.05,178.33 65.92,178.07 64.80,177.80 C63.68,177.53 62.53,177.22 61.60,176.80 C60.67,176.38 59.60,175.55 59.20,175.30 Z" fill="#fdfdfd" stroke="#2c5eae" stroke-width="2.30" stroke-linejoin="round"/><path d="M66.13,167.33 C66.38,167.06 66.99,166.14 67.60,165.70 C68.21,165.26 68.93,164.88 69.80,164.70 C70.67,164.52 72.30,164.62 72.80,164.60" fill="none" stroke="#2c5eae" stroke-width="2.30" stroke-linecap="round"/></g>
<rect x="0" y="365" width="1152" height="5" fill="#f9f9f9"/>
<rect x="0" y="410" width="1152" height="225" fill="#f9f9f9"/>
<text x="580" y="407.8" text-anchor="middle" font-family="'Liberation Sans', sans-serif" font-size="24" fill="#000">Temperatura (°C)</text>
<rect x="70" y="442" width="1024" height="2" fill="#000" fill-opacity="0.15"/>
<rect x="70" y="519" width="1024" height="2" fill="#000" fill-opacity="0.15"/>
<rect x="226" y="418" width="2" height="196" fill="#000" fill-opacity="0.15"/>
<rect x="384" y="418" width="2" height="196" fill="#000" fill-opacity="0.15"/>
<rect x="541" y="418" width="2" height="196" fill="#000" fill-opacity="0.15"/>
<rect x="699" y="418" width="2" height="196" fill="#000" fill-opacity="0.15"/>
<rect x="857" y="418" width="2" height="196" fill="#000" fill-opacity="0.15"/>
<rect x="1015" y="418" width="2" height="196" fill="#000" fill-opacity="0.15"/>
<svg x="70" y="418" width="1024" height="196" viewBox="70 418 1024 196" overflow="hidden">
<path d="M69.20,521.84 L148.10,509.49 L227.00,514.90 L305.90,527.63 L384.80,525.09 L463.70,531.88 L542.60,560.68 L621.50,554.42 L700.40,562.99 L779.30,563.53 L858.20,555.58 L937.10,531.88 L1016.00,510.26 L1094.90,499.46 L1094.90,566.62 L1016.00,579.13 L937.10,585.38 L858.20,590.09 L779.30,592.33 L700.40,589.39 L621.50,590.09 L542.60,598.66 L463.70,584.38 L384.80,548.09 L305.90,545.31 L227.00,529.56 L148.10,522.62 L69.20,554.27Z" fill="#6495ed" fill-opacity="0.5" shape-rendering="crispEdges"/>
<path d="M69.20,450.05 L148.10,447.73 L227.00,444.64 L305.90,446.96 L384.80,454.68 L463.70,475.52 L542.60,480.93 L621.50,480.39 L700.40,485.10 L779.30,474.75 L858.20,470.12 L937.10,463.94 L1016.00,450.82 L1094.90,448.50 L1094.90,514.90 L1016.00,517.98 L937.10,517.98 L858.20,503.32 L779.30,505.63 L700.40,511.04 L621.50,514.90 L542.60,520.30 L463.70,527.25 L384.80,477.84 L305.90,466.26 L227.00,458.54 L148.10,460.86 L69.20,482.47Z" fill="#32cd32" fill-opacity="0.4" shape-rendering="crispEdges"/>
<path d="M69.20,466.03 L148.10,453.91 L227.00,451.59 L305.90,457.00 L384.80,466.41 L463.70,501.39 L542.60,500.23 L621.50,497.60 L700.40,498.68 L779.30,491.74 L858.20,485.56 L937.10,490.58 L1016.00,484.02 L1094.90,481.93" fill="none" stroke="#ff0000" stroke-width="5" stroke-linejoin="round"/>
<path d="M69.20,538.21 L148.10,516.67 L227.00,521.69 L305.90,536.13 L384.80,536.28 L463.70,558.90 L542.60,579.98 L621.50,572.02 L700.40,576.12 L779.30,578.20 L858.20,572.49 L937.10,558.51 L1016.00,544.23 L1094.90,532.03" fill="none" stroke="#1e90ff" stroke-width="5" stroke-linejoin="round"/>
</svg>
<rect x="69" y="597" width="1026" height="1" fill="#333"/>
<rect x="69" y="612" width="5" height="1" fill="#333"/>
<rect x="69" y="582" width="5" height="1" fill="#333"/>
<rect x="69" y="566" width="5" height="1" fill="#333"/>
<rect x="69" y="551" width="5" height="1" fill="#333"/>
<rect x="69" y="535" width="5" height="1" fill="#333"/>
<rect x="69" y="504" width="5" height="1" fill="#333"/>
<rect x="69" y="489" width="5" height="1" fill="#333"/>
<rect x="69" y="473" width="5" height="1" fill="#333"/>
<rect x="69" y="458" width="5" height="1" fill="#333"/>
<rect x="69" y="427" width="5" height="1" fill="#333"/>
<rect x="69" y="417" width="1026" height="1" fill="#333"/>
<rect x="69" y="614" width="1026" height="1" fill="#333"/>
<rect x="69" y="417" width="1" height="198" fill="#333"/>
<rect x="1094" y="417" width="1" height="198" fill="#333"/>
<text x="64" y="450.20" text-anchor="end" font-family="'DejaVu Sans', sans-serif" font-size="19.44" fill="#000">20</text>
<text x="64" y="528.10" text-anchor="end" font-family="'DejaVu Sans', sans-serif" font-size="19.44" fill="#000">10</text>
<text x="64" y="604.60" text-anchor="end" font-family="'DejaVu Sans', sans-serif" font-size="19.44" fill="#000">0</text>
<text x="750" y="483.8" font-family="'Liberation Sans', sans-serif" font-size="19.3" fill="#0000ff" stroke="#ffffff" stroke-opacity="0.2" stroke-width="2.5" paint-order="stroke" stroke-linejoin="round">© vreme.us &amp; vreme.pro</text>
<rect x="0" y="675" width="1152" height="260" fill="#f9f9f9"/>
<text x="578.2" y="668" text-anchor="middle" font-family="'Liberation Sans', sans-serif" font-size="23.8" fill="#000">Količina padavin (mm) / Možnost padavin (%)</text>
<rect x="70" y="735" width="1024" height="2" fill="#000" fill-opacity="0.15"/>
<rect x="70" y="776" width="1024" height="2" fill="#000" fill-opacity="0.15"/>
<rect x="70" y="816" width="1024" height="2" fill="#000" fill-opacity="0.15"/>
<rect x="70" y="856" width="1024" height="2" fill="#000" fill-opacity="0.15"/>
<rect x="226" y="701" width="2" height="196" fill="#000" fill-opacity="0.15"/>
<rect x="384" y="701" width="2" height="196" fill="#000" fill-opacity="0.15"/>
<rect x="541" y="701" width="2" height="196" fill="#000" fill-opacity="0.15"/>
<rect x="699" y="701" width="2" height="196" fill="#000" fill-opacity="0.15"/>
<rect x="857" y="701" width="2" height="196" fill="#000" fill-opacity="0.15"/>
<rect x="1015" y="701" width="2" height="196" fill="#000" fill-opacity="0.15"/>
<svg x="70" y="701" width="1024" height="196" viewBox="70 701 1024 196" overflow="hidden">
<rect x="42.80" y="889.79" width="52.8" height="7.41" fill="#004cff"/>
<rect x="358.40" y="889.15" width="52.8" height="8.05" fill="#004cff"/>
<rect x="437.30" y="803.18" width="52.8" height="94.02" fill="#004cff"/>
<line x1="69.90" y1="897.20" x2="69.90" y2="842.62" stroke="#808080" stroke-width="2.5"/>
<line x1="59.60" y1="897.20" x2="80.20" y2="897.20" stroke="#808080" stroke-width="2.5"/>
<line x1="59.60" y1="842.62" x2="80.20" y2="842.62" stroke="#808080" stroke-width="2.5"/>
<line x1="137.80" y1="897.20" x2="158.40" y2="897.20" stroke="#808080" stroke-width="2.5"/>
<line x1="137.80" y1="897.20" x2="158.40" y2="897.20" stroke="#808080" stroke-width="2.5"/>
<line x1="216.70" y1="897.20" x2="237.30" y2="897.20" stroke="#808080" stroke-width="2.5"/>
<line x1="216.70" y1="897.20" x2="237.30" y2="897.20" stroke="#808080" stroke-width="2.5"/>
<line x1="295.60" y1="897.20" x2="316.20" y2="897.20" stroke="#808080" stroke-width="2.5"/>
<line x1="295.60" y1="897.20" x2="316.20" y2="897.20" stroke="#808080" stroke-width="2.5"/>
<line x1="384.80" y1="895.59" x2="384.80" y2="883.84" stroke="#808080" stroke-width="2.5"/>
<line x1="374.50" y1="895.59" x2="395.10" y2="895.59" stroke="#808080" stroke-width="2.5"/>
<line x1="374.50" y1="883.84" x2="395.10" y2="883.84" stroke="#808080" stroke-width="2.5"/>
<line x1="463.70" y1="894.30" x2="463.70" y2="713.66" stroke="#808080" stroke-width="2.5"/>
<line x1="453.40" y1="894.30" x2="474.00" y2="894.30" stroke="#808080" stroke-width="2.5"/>
<line x1="453.40" y1="713.66" x2="474.00" y2="713.66" stroke="#808080" stroke-width="2.5"/>
<line x1="532.30" y1="897.20" x2="552.90" y2="897.20" stroke="#808080" stroke-width="2.5"/>
<line x1="532.30" y1="897.20" x2="552.90" y2="897.20" stroke="#808080" stroke-width="2.5"/>
<line x1="611.20" y1="897.20" x2="631.80" y2="897.20" stroke="#808080" stroke-width="2.5"/>
<line x1="611.20" y1="897.20" x2="631.80" y2="897.20" stroke="#808080" stroke-width="2.5"/>
<line x1="690.10" y1="897.20" x2="710.70" y2="897.20" stroke="#808080" stroke-width="2.5"/>
<line x1="690.10" y1="897.20" x2="710.70" y2="897.20" stroke="#808080" stroke-width="2.5"/>
<line x1="769.00" y1="897.20" x2="789.60" y2="897.20" stroke="#808080" stroke-width="2.5"/>
<line x1="769.00" y1="897.20" x2="789.60" y2="897.20" stroke="#808080" stroke-width="2.5"/>
<line x1="847.90" y1="897.20" x2="868.50" y2="897.20" stroke="#808080" stroke-width="2.5"/>
<line x1="847.90" y1="897.20" x2="868.50" y2="897.20" stroke="#808080" stroke-width="2.5"/>
<line x1="926.80" y1="897.20" x2="947.40" y2="897.20" stroke="#808080" stroke-width="2.5"/>
<line x1="926.80" y1="897.20" x2="947.40" y2="897.20" stroke="#808080" stroke-width="2.5"/>
<line x1="1005.70" y1="897.20" x2="1026.30" y2="897.20" stroke="#808080" stroke-width="2.5"/>
<line x1="1005.70" y1="897.20" x2="1026.30" y2="897.20" stroke="#808080" stroke-width="2.5"/>
<line x1="1084.60" y1="897.20" x2="1105.20" y2="897.20" stroke="#808080" stroke-width="2.5"/>
<line x1="1084.60" y1="897.20" x2="1105.20" y2="897.20" stroke="#808080" stroke-width="2.5"/>
</svg>
<rect x="69" y="700" width="1026" height="1" fill="#333"/>
<rect x="69" y="897" width="1026" height="1" fill="#333"/>
<rect x="69" y="700" width="1" height="198" fill="#333"/>
<rect x="1094" y="700" width="1" height="198" fill="#333"/>
<text x="64.6" y="733.20" text-anchor="end" font-family="'DejaVu Sans', sans-serif" font-size="20" fill="#000">10.0</text>
<text x="64.6" y="785.20" text-anchor="end" font-family="'DejaVu Sans', sans-serif" font-size="20" fill="#000">7.5</text>
<text x="64.6" y="824.70" text-anchor="end" font-family="'DejaVu Sans', sans-serif" font-size="20" fill="#000">5.0</text>
<text x="64.6" y="865.90" text-anchor="end" font-family="'DejaVu Sans', sans-serif" font-size="20" fill="#000">2.5</text>
<text x="64.6" y="893.50" text-anchor="end" font-family="'DejaVu Sans', sans-serif" font-size="20" fill="#000">0.0</text>
<text x="69.10" y="692.9" text-anchor="middle" font-family="'DejaVu Sans', sans-serif" font-size="19.44" fill="#000">čet</text>
<text x="147.93" y="692.9" text-anchor="middle" font-family="'DejaVu Sans', sans-serif" font-size="19.44" fill="#000">pet</text>
<text x="226.76" y="692.9" text-anchor="middle" font-family="'DejaVu Sans', sans-serif" font-size="19.44" fill="#000">sob</text>
<text x="305.59" y="692.9" text-anchor="middle" font-family="'DejaVu Sans', sans-serif" font-size="19.44" fill="#000">ned</text>
<text x="384.42" y="692.9" text-anchor="middle" font-family="'DejaVu Sans', sans-serif" font-size="19.44" fill="#000">pon</text>
<text x="463.25" y="692.9" text-anchor="middle" font-family="'DejaVu Sans', sans-serif" font-size="19.44" fill="#000">tor</text>
<text x="542.08" y="692.9" text-anchor="middle" font-family="'DejaVu Sans', sans-serif" font-size="19.44" fill="#000">sre</text>
<text x="620.91" y="692.9" text-anchor="middle" font-family="'DejaVu Sans', sans-serif" font-size="19.44" fill="#000">čet</text>
<text x="699.74" y="692.9" text-anchor="middle" font-family="'DejaVu Sans', sans-serif" font-size="19.44" fill="#000">pet</text>
<text x="778.57" y="692.9" text-anchor="middle" font-family="'DejaVu Sans', sans-serif" font-size="19.44" fill="#000">sob</text>
<text x="857.40" y="692.9" text-anchor="middle" font-family="'DejaVu Sans', sans-serif" font-size="19.44" fill="#000">ned</text>
<text x="936.23" y="692.9" text-anchor="middle" font-family="'DejaVu Sans', sans-serif" font-size="19.44" fill="#000">pon</text>
<text x="1015.06" y="692.9" text-anchor="middle" font-family="'DejaVu Sans', sans-serif" font-size="19.44" fill="#000">tor</text>
<text x="1093.89" y="692.9" text-anchor="middle" font-family="'DejaVu Sans', sans-serif" font-size="19.44" fill="#000">sre</text>
<text x="69.10" y="927.1" text-anchor="middle" font-family="'DejaVu Sans', sans-serif" font-size="23.7" fill="#3399cc">45%</text>
<text x="147.93" y="927.1" text-anchor="middle" font-family="'DejaVu Sans', sans-serif" font-size="23.7" fill="#5bd0e0">0%</text>
<text x="226.76" y="927.1" text-anchor="middle" font-family="'DejaVu Sans', sans-serif" font-size="23.7" fill="#5bd0e0">0%</text>
<text x="305.59" y="927.1" text-anchor="middle" font-family="'DejaVu Sans', sans-serif" font-size="23.7" fill="#5bd0e0">0%</text>
<text x="384.42" y="927.1" text-anchor="middle" font-family="'DejaVu Sans', sans-serif" font-size="23.7" fill="#3399cc">25%</text>
<text x="463.25" y="927.1" text-anchor="middle" font-family="'DejaVu Sans', sans-serif" font-size="23.7" fill="#3399cc">25%</text>
<text x="542.08" y="927.1" text-anchor="middle" font-family="'DejaVu Sans', sans-serif" font-size="23.7" fill="#5bd0e0">5%</text>
<text x="620.91" y="927.1" text-anchor="middle" font-family="'DejaVu Sans', sans-serif" font-size="23.7" fill="#5bd0e0">0%</text>
<text x="699.74" y="927.1" text-anchor="middle" font-family="'DejaVu Sans', sans-serif" font-size="23.7" fill="#5bd0e0">0%</text>
<text x="778.57" y="927.1" text-anchor="middle" font-family="'DejaVu Sans', sans-serif" font-size="23.7" fill="#5bd0e0">5%</text>
<text x="857.40" y="927.1" text-anchor="middle" font-family="'DejaVu Sans', sans-serif" font-size="23.7" fill="#5bd0e0">5%</text>
<text x="936.23" y="927.1" text-anchor="middle" font-family="'DejaVu Sans', sans-serif" font-size="23.7" fill="#3399cc">20%</text>
<text x="1015.06" y="927.1" text-anchor="middle" font-family="'DejaVu Sans', sans-serif" font-size="23.7" fill="#3399cc">30%</text>
<text x="1093.89" y="927.1" text-anchor="middle" font-family="'DejaVu Sans', sans-serif" font-size="23.7" fill="#3399cc">50%</text>
</svg>
</body></html>
